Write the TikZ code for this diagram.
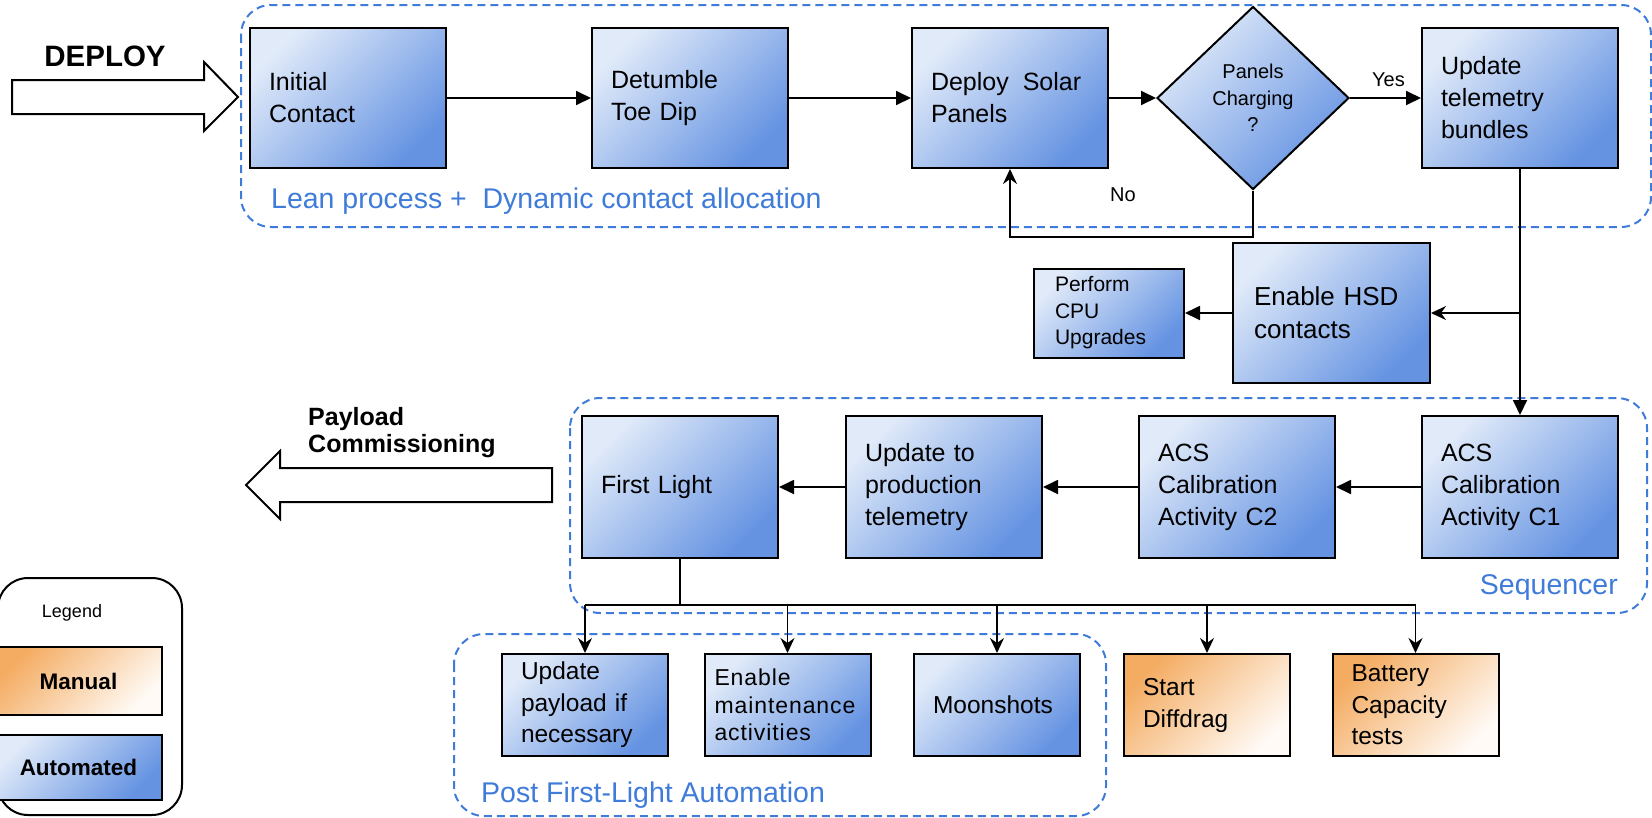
\documentclass[tikz,border=0pt]{standalone}
\usepackage{fontspec}
\setmainfont{Liberation Sans}
\usetikzlibrary{shapes.geometric,arrows.meta,calc}

\definecolor{grpblue}{HTML}{3F7BD9}
\definecolor{autoA}{HTML}{E0EAF9}
\definecolor{autoB}{HTML}{6593E2}
\definecolor{manA}{HTML}{F4AC62}
\definecolor{manB}{HTML}{FFFAF5}

\newcommand{\fsz}[2]{\fontsize{#1pt}{#2pt}\selectfont}

\tikzset{
  boxbase/.style={draw=black, line width=2pt, inner sep=0pt, align=left},
  autobox/.style={boxbase, top color=autoA, bottom color=autoB, shading angle=45},
  manbox/.style={boxbase, top color=manA, bottom color=manB, shading angle=45},
  bigbox/.style={minimum width=196pt, minimum height=140pt, text width=158pt, font=\fsz{25}{32}},
  lowbox/.style={minimum width=166pt, minimum height=102pt, text width=128pt, font=\fsz{24.5}{31.5}},
  grp/.style={draw=grpblue, line width=2pt, dash pattern=on 8pt off 5pt, rounded corners=30pt},
  grplabel/.style={text=grpblue, font=\fsz{28.5}{34}, inner sep=0pt},
  tri/.style={line width=1.8pt, -{Triangle[length=15pt,width=14pt]}},
  stl/.style={line width=1.7pt, -{Stealth[length=15pt,width=14pt,inset=5pt]}},
  ln/.style={line width=1.8pt},
  fat/.style={draw=black, line width=2pt, fill=white, line join=miter},
}

\begin{document}
\begin{tikzpicture}[x=1pt, y=-1pt]
\useasboundingbox (0,0) rectangle (1652,817);

% group frames
\draw[grp] (241,5) rectangle (1651,227);
\draw[grp] (570,398) rectangle (1647,613);
\draw[grp] (454,634) rectangle (1106,816);

\node[grplabel, anchor=base west] (lblLean) at (271,208) {Lean process +\ \ Dynamic contact allocation};
\node[grplabel, anchor=base east] (lblSeq) at (1618,594) {Sequencer};
\node[grplabel, anchor=base west] (lblPost) at (481,802) {Post First-Light Automation};

% deploy arrow
\draw[fat] (12,80) -- (204,80) -- (204,62) -- (238,97) -- (204,131) -- (204,114) -- (12,114) -- cycle;
\node[font=\fsz{29.5}{34}\bfseries, inner sep=0pt] (lblDeploy) at (105,56) {DEPLOY};

% payload commissioning arrow
\draw[fat] (552,468) -- (280,468) -- (280,451) -- (246,485) -- (280,519) -- (280,502) -- (552,502) -- cycle;
\node[font=\fsz{25}{27}\bfseries, align=left, inner sep=0pt, anchor=north west] (lblPayload) at (308,407) {Payload\\Commissioning};

% first row
\node[autobox, bigbox] (ic)  at (348,98)  {Initial\\Contact};
\node[autobox, bigbox] (dt)  at (690,98)  {Detumble\\Toe Dip};
\node[autobox, bigbox] (dsp) at (1010,98) {Deploy\hspace{14pt}Solar\\Panels};
\node[autobox, diamond, align=center, minimum width=192pt, minimum height=183pt,
      font=\fsz{20}{26.5}] (dia) at (1253,98) {Panels\\Charging\\?};
\node[autobox, bigbox] (utb) at (1520,98) {Update\\telemetry\\bundles};

\node[autobox, minimum width=197pt, minimum height=140pt, text width=155pt, font=\fsz{26}{33}] (hsd) at (1331.5,313) {Enable HSD\\contacts};
\node[autobox, minimum width=150pt, minimum height=89pt, text width=108pt, font=\fsz{21}{26.5}] (cpu) at (1109,313) {Perform\\CPU\\Upgrades};

% sequencer row
\node[autobox, bigbox, minimum height=142pt] (fl) at (680,487)  {First Light};
\node[autobox, bigbox, minimum height=142pt] (up) at (944,487)  {Update to\\production\\telemetry};
\node[autobox, bigbox, minimum height=142pt] (c2) at (1237,487) {ACS\\Calibration\\Activity C2};
\node[autobox, bigbox, minimum height=142pt] (c1) at (1520,487) {ACS\\Calibration\\Activity C1};

% bottom row
\node[autobox, lowbox] (upp) at (585,705) {Update\\payload if\\necessary};
\node[autobox, lowbox, text width=146pt, font=\fsz{23}{27.5}\addfontfeatures{LetterSpace=4}] (em) at (787.5,705) {Enable\\maintenance\\activities};
\node[autobox, lowbox] (moon) at (997,705) {Moonshots};
\node[manbox, lowbox, font=\fsz{24.5}{32}] (sd) at (1207,705) {Start\\Diffdrag};
\node[manbox, lowbox] (bat) at (1415.5,705) {Battery\\Capacity\\tests};

% first row flow
\draw[tri] (ic) -- (dt);
\draw[tri] (dt) -- (dsp);
\draw[tri] (dsp) -- (dia.west);
\draw[tri] (dia.east) -- (utb);
\node[font=\fsz{20}{24}, inner sep=0pt, anchor=base west] (lblYes) at (1372,86) {Yes};
\coordinate (noturn) at (1253,237);
\draw[stl] (dia.south) -- (noturn) -| (dsp.south);
\node[font=\fsz{20}{24}, inner sep=0pt, anchor=base west] (lblNo) at (1110,201) {No};

% telemetry branch and hand-off to sequencer
\draw[tri] (utb.south) -- (c1.north);
\coordinate (hsdtap) at (utb.south |- hsd.east);
\draw[stl] (hsdtap) -- (hsd.east);
\draw[tri] (hsd.west) -- (cpu.east);

% sequencer flow
\draw[tri] (c1.west) -- (c2.east);
\draw[tri] (c2.west) -- (up.east);
\draw[tri] (up.west) -- (fl.east);

% fan-out after first light
\coordinate (bus) at (680,605);
\draw[ln] (fl.south) -- (bus);
\draw[ln] (upp.north |- bus) -- (bat.north |- bus);
\foreach \n in {upp,em,moon,sd,bat}
  \draw[stl] (\n.north |- bus) -- (\n.north);

% legend
\draw[line width=2pt, rounded corners=30pt] (-2,578) rectangle (182,815);
\node[font=\fsz{18}{22}, inner sep=0pt] (lgTitle) at (72,613) {Legend};
\node[manbox, align=center, minimum width=167pt, minimum height=68pt, font=\fsz{22.5}{26}\bfseries] (lgMan) at (78.5,681) {Manual};
\node[autobox, align=center, minimum width=167pt, minimum height=65pt, font=\fsz{22.5}{26}\bfseries] (lgAuto) at (78.5,767.5) {Automated};
\end{tikzpicture}
\end{document}
